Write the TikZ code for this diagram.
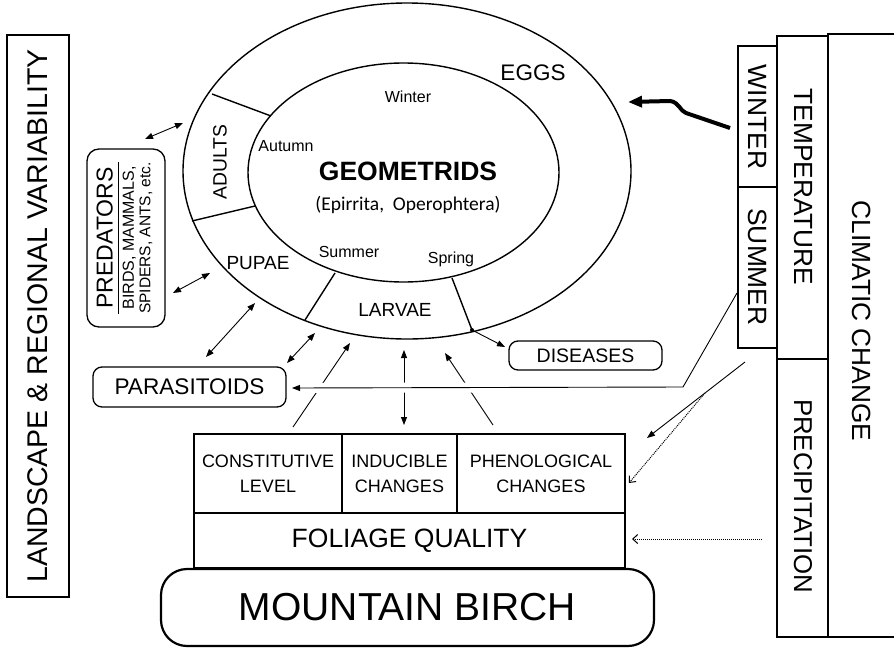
\documentclass[tikz,border=0pt]{standalone}
\usepackage{fontspec}
\setmainfont{Liberation Sans}
\newfontfamily\calfont{Carlito}
\usetikzlibrary{arrows.meta,calc}
\newcommand{\fsz}[2]{\fontsize{#1}{#2}\selectfont}

\begin{document}
\begin{tikzpicture}[x=1pt, y=-1pt,
  box/.style={draw, line width=1.3pt, inner sep=0pt, align=center},
  rbox/.style={box, rounded corners=9pt},
  ring/.style={line width=1.4pt},
  tip/.style={-{Triangle[length=8pt,width=6pt]}, line width=0.9pt},
  twotip/.style={{Triangle[length=8pt,width=6pt]}-{Triangle[length=8pt,width=6pt]}, line width=0.9pt},
  dottip/.style={-{Straight Barb[length=5pt,width=9pt]}, dash pattern=on 1pt off 1pt, line width=1pt}]
  \useasboundingbox (0,0) rectangle (894,648);
  \clip (0,0) rectangle (894,648);

  % Life cycle rings
  \coordinate (O1) at (407,171);
  \coordinate (O2) at (403.5,172.5);
  \draw[ring] (O1) ellipse [x radius=224pt, y radius=168pt];
  \draw[ring] (O2) ellipse [x radius=155.5pt, y radius=109.5pt];

  % Borders between the stages
  \coordinate (a1) at (212,94);  \coordinate (a2) at (271,116);
  \coordinate (b1) at (192,221); \coordinate (b2) at (255,206);
  \coordinate (l1) at (305,320); \coordinate (l2) at (335,273);
  \coordinate (r1) at (452,278); \coordinate (r2) at (472,330);
  \draw[ring] (a1) -- (a2);
  \draw[ring] (b1) -- (b2);
  \draw[ring] (l1) -- (l2);
  \draw[ring] (r1) -- (r2);

  % Stages and seasons
  \node (eggs) at (533,73) {\fsz{22.5}{26}EGGS};
  \node[rotate=90] (adults) at (220,162) {\fsz{19.3}{23}ADULTS};
  \node (pupae) at (258,263) {\fsz{19}{23}PUPAE};
  \node (larvae) at (395,310) {\fsz{19}{23}LARVAE};
  \node (winter) at (408,97) {\fsz{16}{19}Winter};
  \node (autumn) at (286,146) {\fsz{16}{19}Autumn};
  \node (summer) at (349,252) {\fsz{16}{19}Summer};
  \node (spring) at (451,259) {\fsz{16}{19}Spring};
  \node (geo) at (408,171) {\fsz{26.5}{30}\bfseries GEOMETRIDS};
  \node (genus) at (408,205) {\fsz{19.5}{23}\calfont (Epirrita,\ \ Operophtera)};

  % Left side
  \node[box, rotate=90, minimum width=562pt, minimum height=62pt] (land) at (38,316)
    {\fsz{28.5}{32}LANDSCAPE \& REGIONAL VARIABILITY};
  \node[rbox, rounded corners=12pt, rotate=90, minimum width=178pt, minimum height=78pt] (pred) at (126,238)
    {\fsz{16}{16.5}\setlength{\arrayrulewidth}{1.2pt}%
     \begin{tabular}{@{}c@{}}
       \fsz{23}{24}PREDATORS\\ \hline
       \rule{0pt}{15pt}BIRDS, MAMMALS,\\
       \fsz{15.5}{16.5}SPIDERS, ANTS, etc.
     \end{tabular}};
  \node[rbox, minimum width=193pt, minimum height=40pt] (paras) at (189.5,387)
    {\fsz{22.6}{26}PARASITOIDS};
  \node[rbox, minimum width=153pt, minimum height=29pt] (dis) at (585.5,355.5)
    {\fsz{19.5}{23}DISEASES};

  % Host plant
  \node[box, font=\fsz{18}{25}, minimum width=148pt, minimum height=79pt] (const) at (268,473.5)
    {CONSTITUTIVE\\LEVEL};
  \node[box, font=\fsz{18}{25}, minimum width=115pt, minimum height=79pt] (induc) at (399.5,473.5)
    {INDUCIBLE\\CHANGES};
  \node[box, font=\fsz{18}{25}, minimum width=168pt, minimum height=79pt] (pheno) at (541,473.5)
    {PHENOLOGICAL\\CHANGES};
  \node[box, minimum width=431pt, minimum height=55pt] (foli) at (409.5,540.5)
    {\fsz{26.5}{30}FOLIAGE QUALITY};
  \node[box, line width=2.2pt, rounded corners=26pt, minimum width=493pt, minimum height=77pt] (birch) at (407.5,607.5)
    {\fsz{39}{44}MOUNTAIN BIRCH};

  % Climate
  \draw[box] (738,46) rectangle (777,187);
  \draw[box] (738,187) rectangle (777,348);
  \draw[box] (777,36) rectangle (828,359);
  \draw[box] (777,359) rectangle (828,637);
  \draw[box] (828,34) rectangle (900,637);
  \node[rotate=-90] (wint) at (758,117) {\fsz{26.4}{30}WINTER};
  \node[rotate=-90] (summ) at (758,267) {\fsz{26.4}{30}SUMMER};
  \node[rotate=-90] (temp) at (803,187) {\fsz{26.3}{30}TEMPERATURE};
  \node[rotate=-90] (prec) at (803,496) {\fsz{25.8}{30}PRECIPITATION};
  \node[rotate=-90] (clim) at (862,321) {\fsz{26.3}{30}CLIMATIC CHANGE};

  % Interactions
  \coordinate (p1) at (145,139); \coordinate (p2) at (183,123);
  \coordinate (p3) at (173,293); \coordinate (p4) at (210,273);
  \coordinate (q1) at (206,357); \coordinate (q2) at (255,303);
  \coordinate (q3) at (287,363); \coordinate (q4) at (315,333);
  \draw[twotip] (p1) -- (p2);
  \draw[twotip] (p3) -- (p4);
  \draw[twotip] (q1) -- (q2);
  \draw[twotip] (q3) -- (q4);
  \coordinate (d1) at (505,347);
  \fill (r2) circle (2pt);
  \draw[tip] (r2) -- (d1);

  % Plant to larvae
  \coordinate (c1) at (293,427); \coordinate (c2) at (350,343);
  \coordinate (i1) at (404,425); \coordinate (i2) at (404,350);
  \coordinate (h1) at (493,425); \coordinate (h2) at (445,353);
  \draw[tip] (c1) -- (c2);
  \draw[twotip] (i1) -- (i2);
  \draw[tip] (h1) -- (h2);

  % Climate effects
  \coordinate (s1) at (737,293); \coordinate (s2) at (683,387); \coordinate (s3) at (292,388);
  \draw[white, line width=10pt] (s2) -- (s3);
  \draw[tip] (s1) -- (s2) -- (s3);
  \coordinate (t1) at (745,362); \coordinate (t2) at (647,438);
  \coordinate (t3) at (705,393); \coordinate (t4) at (629,483);
  \coordinate (t5) at (762,539); \coordinate (t6) at (632,539);
  \draw[tip] (t1) -- (t2);
  \draw[dottip] (t3) -- (t4);
  \draw[dottip] (t5) -- (t6);
  \coordinate (w1) at (730,128); \coordinate (w2) at (628,102);
  \draw[line width=4pt, line join=round, -{Triangle[length=14pt,width=11pt]}]
    (w1) -- (686,113) .. controls (680,111) and (679,102) .. (670,101) -- (w2);
\end{tikzpicture}
\end{document}
